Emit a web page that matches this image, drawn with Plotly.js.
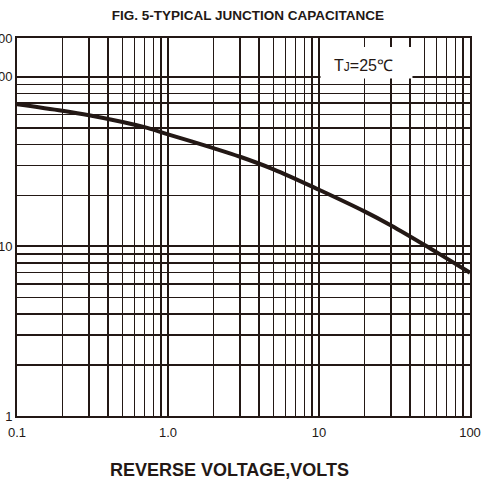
<!DOCTYPE html>
<html>
<head>
<meta charset="utf-8">
<script src="https://cdn.plot.ly/plotly-3.0.1.min.js"></script>
<style>html,body{margin:0;padding:0;background:#fff;}#chart{width:486px;height:486px;}</style>
</head>
<body>
<div id="chart"></div>
<script>
// Reverse voltage (V) and typical junction capacitance (pF)
const voltage = [0.1, 0.2, 0.3, 0.5, 0.7, 1.0, 2, 3, 5, 10, 20, 30, 50, 70, 100];
const capacitance = [69, 63.1, 59.4, 54.2, 50.5, 45.8, 38.0, 33.8, 28.5, 21.6, 16.1, 13.3, 10.2, 8.5, 7.0];

const xTickVals = [0.1, 1, 10, 100];
const xTickText = ['0.1', '1.0', '10', '100'];
const yTickVals = [1, 10, 100, 169.5];
const yTickText = ['1', '10', '100', '200'];

const titleText = 'FIG. 5-TYPICAL JUNCTION CAPACITANCE';
const xTitleText = 'REVERSE VOLTAGE,VOLTS';
const noteText = 'T<span style="font-size:12px">J</span>=25℃';

const ink = '#231815';

const trace = {
  x: voltage, y: capacitance, type: 'scatter', mode: 'lines',
  line: {color: ink, width: 4, shape: 'spline', smoothing: 1},
  hoverinfo: 'skip'
};

const layout = {
  width: 486, height: 486,
  margin: {l: 17, r: 16, t: 38, b: 70},
  paper_bgcolor: '#fff', plot_bgcolor: '#fff',
  showlegend: false,
  font: {family: 'Liberation Sans, Arial, sans-serif', color: ink},
  title: {text: '<b>' + titleText + '</b>', x: 0.51, xanchor: 'center', y: 0.968, yanchor: 'middle',
          font: {size: 13.5, color: ink}},
  xaxis: {
    type: 'log', range: [-1, 2], tickmode: 'array', tickvals: xTickVals, ticktext: xTickText,
    showgrid: true, gridcolor: ink, gridwidth: 1.5,
    minor: {dtick: 'D1', showgrid: true, gridcolor: ink, gridwidth: 1.4, ticks: ''},
    showline: true, mirror: true, linecolor: ink, linewidth: 2,
    ticks: '', ticklabelstandoff: 3, tickfont: {size: 13, color: ink}, zeroline: false, fixedrange: true
  },
  yaxis: {
    type: 'log', range: [0, Math.log10(169.5)], tickmode: 'array', tickvals: yTickVals, ticktext: yTickText,
    showgrid: true, gridcolor: ink, gridwidth: 1.9,
    minor: {dtick: 'D1', showgrid: true, gridcolor: ink, gridwidth: 1.4, ticks: ''},
    showline: true, mirror: true, linecolor: ink, linewidth: 2,
    ticks: '', tickfont: {size: 13, color: ink}, zeroline: false, fixedrange: true
  },
  shapes: [{
    type: 'rect', xref: 'paper', yref: 'paper', x0: 0.67, x1: 0.873, y0: 0.893, y1: 0.976,
    fillcolor: '#fff', line: {width: 0}, layer: 'above'
  }],
  annotations: [
    {text: noteText, xref: 'paper', yref: 'paper', x: 0.764, y: 0.928, showarrow: false,
     xanchor: 'center', yanchor: 'middle', font: {size: 16, color: ink}},
    {text: '<b>' + xTitleText + '</b>', xref: 'paper', yref: 'paper', x: 0.468, y: -0.143,
     showarrow: false, xanchor: 'center', yanchor: 'middle', font: {size: 18, color: ink}}
  ]
};

Plotly.newPlot('chart', [trace], layout, {staticPlot: true, displayModeBar: false});
</script>
</body>
</html>
